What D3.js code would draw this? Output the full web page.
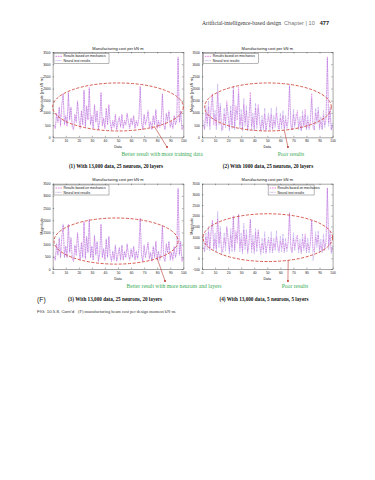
<!DOCTYPE html>
<html>
<head>
<meta charset="utf-8">
<script src="https://cdn.jsdelivr.net/npm/d3@7"></script>
<style>
  body { margin: 0; background: #fff; }
  svg { display: block; }
</style>
</head>
<body>
<div id="chart"></div>
<script>
// ── data ───────────────────────────────────────────────────────────
const mechanics = [
  500, 350, 1000, 600, 1250, 450, 1350, 1800, 500, 900,
  450, 1850, 700, 1250, 400, 300, 950, 600, 1500, 800,
  350, 1100, 500, 1950, 400, 1300, 700, 2050, 500, 900,
  350, 1350, 600, 1100, 300, 650, 1850, 450, 800, 350,
  1200, 500, 1350, 600, 300, 700, 400, 950, 300, 600,
  850, 400, 950, 350, 700, 500, 1000, 600, 350, 800,
  500, 900, 350, 700, 450, 800, 2100, 600, 300, 950,
  500, 750, 1100, 400, 650, 300, 900, 500, 1150, 350,
  700, 400, 600, 1800, 500, 300, 1000, 700, 1100, 400,
  650, 350, 900, 500, 700, 3300, 600, 1100, 300, 450
]
const neural1 = [
  450, 400, 950, 650, 1200, 500, 1300, 1750, 550, 850,
  500, 1800, 750, 1200, 450, 350, 900, 650, 1450, 750,
  400, 1050, 550, 1900, 450, 1250, 750, 2000, 550, 850,
  400, 1300, 650, 1050, 350, 700, 1800, 500, 750, 400,
  1150, 550, 1300, 650, 350, 650, 450, 900, 350, 650,
  800, 450, 900, 400, 650, 550, 950, 650, 400, 750,
  550, 850, 400, 650, 500, 750, 2050, 650, 350, 900,
  550, 700, 1050, 450, 600, 350, 850, 550, 1100, 400,
  650, 450, 650, 1750, 550, 350, 950, 650, 1050, 450,
  600, 400, 850, 550, 650, 3250, 650, 1050, 350, 400
]
const neural2 = [
  700, 300, 1300, 450, 1500, 300, 1100, 1650, 700, 1100,
  300, 2200, 500, 1400, 250, 500, 1200, 400, 1350, 1000,
  250, 1300, 350, 2100, 300, 1100, 950, 1800, 350, 1150,
  250, 1600, 450, 1300, 250, 900, 1600, 300, 1000, 250,
  1400, 350, 1200, 850, 250, 900, 300, 1200, 250, 800,
  1000, 300, 1200, 300, 900, 400, 1250, 450, 300, 1000,
  350, 1100, 300, 900, 350, 650, 2150, 450, 300, 1150,
  400, 950, 900, 300, 850, 250, 1100, 400, 950, 300,
  900, 300, 800, 1600, 350, 300, 1200, 550, 1250, 300,
  850, 300, 1100, 400, 900, 3250, 450, 1250, 300, 600
]
const neural3 = [
  550, 400, 1050, 550, 1300, 500, 1300, 1850, 450, 950,
  500, 1800, 650, 1300, 450, 350, 1000, 550, 1450, 850,
  400, 1050, 450, 1900, 450, 1350, 650, 2000, 450, 950,
  400, 1400, 550, 1150, 350, 600, 1800, 500, 850, 400,
  1250, 450, 1300, 550, 350, 750, 350, 1000, 350, 550,
  900, 350, 1000, 400, 750, 450, 1050, 550, 400, 850,
  450, 950, 400, 750, 400, 850, 2050, 550, 350, 1000,
  450, 800, 1050, 450, 700, 350, 950, 450, 1100, 400,
  750, 350, 650, 1750, 450, 350, 1050, 650, 1150, 350,
  700, 400, 950, 450, 750, 3300, 550, 1150, 350, 500
]
const neural4 = [
  900, 300, 1200, 400, 1500, 350, 1250, 1700, 400, 1200,
  300, 2200, 500, 1500, 200, 450, 1200, 350, 1450, 1000,
  200, 1400, 300, 2000, 300, 1150, 900, 2050, 300, 1200,
  200, 1650, 400, 1350, 200, 850, 1800, 250, 1100, 200,
  1400, 300, 1250, 800, 150, 950, 250, 1250, 200, 750,
  1000, 250, 1250, 250, 950, 350, 1300, 400, 250, 1050,
  300, 1150, 250, 950, 300, 700, 2150, 400, 250, 1200,
  350, 1000, 950, 250, 900, 200, 1150, 350, 1000, 250,
  950, 250, 850, 1750, -100, 250, 1250, 500, 1300, 250,
  900, 250, 1150, 350, 950, 3300, 400, 1300, 200, 600
]
const seriesNames = ['Results based on mechanics', 'Neural test results']
const xTicks = [0, 10, 20, 30, 40, 50, 60, 70, 80, 90, 100]
const yTicksA = [0, 500, 1000, 1500, 2000, 2500, 3000, 3500]
const yTicksB = [-500, 0, 500, 1000, 1500, 2000, 2500, 3000, 3500]
const captions = [
  '(1) With 13,000 data, 25 neurons, 20 layers',
  '(2) With 1000 data, 25 neurons, 20 layers',
  '(3) With 13,000 data, 25 neurons, 20 layers',
  '(4) With 13,000 data, 5 neurons, 5 layers'
]
// ellipse (cx, cy, rx, ry) and arrow (from x, to x, to y) in data units
const ellipses = [[50, 1245, 50, 985], [50.5, 1245, 48.5, 985], [48.5, 1146, 47.5, 946], [50.4, 970, 49.6, 1120]]
const arrows = [[78, 87.5, -400], [63, 65.8, -400], [80, 86, -490], [66, 65.8, -1060]]

const idx = d3.range(1, 101)

const W = 375, H = 480
const PW = 130.6, PH = 85.3
const SANS = 'Liberation Sans, Arial, sans-serif'
const SERIF = 'Liberation Serif, Times New Roman, serif'
const C_MECH = '#d24ad6', C_NEUR = '#8a63d8', C_ELL = '#d2473c', C_GREEN = '#3aab55'

const panels = [
  { left: 52.7, top: 52, neural: neural1, yTicks: yTicksA, ylab: 'Magnitude (per kN·m)', legend: 'left' },
  { left: 202, top: 52, neural: neural2, yTicks: yTicksA, ylab: 'Magnitude (per kN·m)', legend: 'left' },
  { left: 52.7, top: 183.7, neural: neural3, yTicks: yTicksA, ylab: 'Magnitude', legend: 'left' },
  { left: 202, top: 183.7, neural: neural4, yTicks: yTicksB, ylab: 'Magnitude', legend: 'right' }
]

const svg = d3.select('#chart').append('svg').attr('width', W).attr('height', H)
svg.append('rect').attr('width', W).attr('height', H).attr('fill', '#fff')

// ── page header ───────────────────────────────────────────────────
const hdr = svg.append('text').attr('x', 202).attr('y', 25).style('font-size', '5.6px')
hdr.append('tspan').style('font-family', SERIF).attr('fill', '#333').text('Artificial-intelligence-based design')
hdr.append('tspan').attr('dx', 3).style('font-family', SANS).attr('fill', '#777').text('Chapter | 10')
hdr.append('tspan').attr('dx', 5).style('font-family', SANS).style('font-weight', 'bold').attr('fill', '#222').text('477')

panels.forEach((p, k) => {
  const x = d3.scaleLinear().domain([0, 100]).range([0, PW])
  const y = d3.scaleLinear().domain(d3.extent(p.yTicks)).range([PH, 0])
  const g = svg.append('g').attr('transform', `translate(${p.left},${p.top})`)

  // title
  g.append('text').attr('x', PW / 2).attr('y', -2.5).attr('text-anchor', 'middle')
    .style('font-family', SANS).style('font-size', '4px').attr('fill', '#111')
    .text('Manufacturing cost per kN·m')

  // lines
  const line = d3.line().x((d, i) => x(idx[i])).y(d => y(d))
  g.append('path').datum(mechanics).attr('d', line)
    .attr('fill', 'none').attr('stroke', C_MECH).attr('stroke-width', 0.45).attr('stroke-dasharray', '1.6 0.8')
  g.append('path').datum(p.neural).attr('d', line)
    .attr('fill', 'none').attr('stroke', C_NEUR).attr('stroke-width', 0.4).attr('stroke-dasharray', '0.8 0.5')

  // axes (matlab box, inward ticks)
  const styleAxis = sel => {
    sel.selectAll('path').attr('stroke', '#222').attr('stroke-width', 0.4)
    sel.selectAll('line').attr('stroke', '#222').attr('stroke-width', 0.35)
    sel.selectAll('text').style('font-family', SANS).style('font-size', '3.3px').attr('fill', '#222')
  }
  g.append('g').attr('transform', `translate(0,${PH})`)
    .call(d3.axisBottom(x).tickValues(xTicks).tickSize(-1.5).tickSizeOuter(0).tickPadding(2.2).tickFormat(d3.format('d'))).call(styleAxis)
  g.append('g')
    .call(d3.axisTop(x).tickValues(xTicks).tickSize(-1.5).tickSizeOuter(0).tickFormat('')).call(styleAxis)
  g.append('g')
    .call(d3.axisLeft(y).tickValues(p.yTicks).tickSize(-1.5).tickSizeOuter(0).tickPadding(2.2).tickFormat(d3.format('d'))).call(styleAxis)
  g.append('g').attr('transform', `translate(${PW},0)`)
    .call(d3.axisRight(y).tickValues(p.yTicks).tickSize(-1.5).tickSizeOuter(0).tickFormat('')).call(styleAxis)

  // axis labels
  g.append('text').attr('x', PW / 2).attr('y', PH + 11).attr('text-anchor', 'middle')
    .style('font-family', SANS).style('font-size', '3.6px').attr('fill', '#111').text('Data')
  g.append('text').attr('transform', `translate(-9.5,${PH / 2}) rotate(-90)`).attr('text-anchor', 'middle')
    .style('font-family', SANS).style('font-size', '3.6px').attr('fill', '#111').text(p.ylab)

  // legend
  const lw = p.legend === 'left' ? 55 : 46, lh = 10
  const lx = p.legend === 'left' ? 1.3 : PW - lw - 18.5
  const lg = g.append('g').attr('transform', `translate(${lx},1.3)`)
  lg.append('rect').attr('width', lw).attr('height', lh)
    .attr('fill', '#fff').attr('stroke', '#333').attr('stroke-width', 0.35)
  seriesNames.forEach((name, j) => {
    const yy = 3 + j * 4.3
    lg.append('line').attr('x1', 1.5).attr('x2', 8).attr('y1', yy).attr('y2', yy)
      .attr('stroke', j === 0 ? C_MECH : C_NEUR).attr('stroke-width', j === 0 ? 0.7 : 0.5)
      .attr('stroke-dasharray', j === 0 ? '1.6 0.8' : '0.8 0.5')
    lg.append('text').attr('x', 9.5).attr('y', yy + 1.2)
      .style('font-family', SANS).style('font-size', '3.3px').attr('fill', '#111').text(name)
  })

  // red ellipse + arrow
  const [ecx, ecy, erx, ery] = ellipses[k]
  g.append('ellipse').attr('cx', x(ecx)).attr('cy', y(ecy))
    .attr('rx', x(erx) - x(0)).attr('ry', y(0) - y(ery))
    .attr('fill', 'none').attr('stroke', C_ELL).attr('stroke-width', 0.9).attr('stroke-dasharray', '3 1.6')
  const [ax0, ax1, ay1] = arrows[k]
  const t = Math.acos(Math.max(-1, Math.min(1, (ax0 - ecx) / erx)))
  const ay0 = ecy - ery * Math.sin(t)
  g.append('line').attr('x1', x(ax0)).attr('y1', y(ay0)).attr('x2', x(ax1)).attr('y2', y(ay1))
    .attr('stroke', '#b83a30').attr('stroke-width', 0.6)
  g.append('circle').attr('cx', x(ax1)).attr('cy', y(ay1)).attr('r', 1)
    .attr('fill', '#b83a30')
})

// ── annotations and captions ───────────────────────────────────────
const note = (txt, cx, yy) => svg.append('text').attr('x', cx).attr('y', yy).attr('text-anchor', 'middle')
  .style('font-family', SERIF).style('font-size', '5.6px').attr('fill', C_GREEN).text(txt)
note('Better result with more training data', 162, 156)
note('Poor results', 291, 156)
note('Better result with more neurons and layers', 174, 288)
note('Poor results', 295, 288)

const cap = (txt, cx, yy) => svg.append('text').attr('x', cx).attr('y', yy).attr('text-anchor', 'middle')
  .style('font-family', SERIF).style('font-size', '5.2px').style('font-weight', 'bold').attr('fill', '#111').text(txt)
cap(captions[0], 116, 168)
cap(captions[1], 268, 168)
cap(captions[2], 115, 301)
cap(captions[3], 264, 301)

svg.append('text').attr('x', 37).attr('y', 301.5)
  .style('font-family', SANS).style('font-size', '6.8px').attr('fill', '#222').text('(F)')
const fig = svg.append('text').attr('x', 37).attr('y', 313).style('font-size', '4.4px').attr('fill', '#333')
fig.append('tspan').style('font-family', SANS).text('FIG. 10.5.8, Cont\u2019d')
fig.append('tspan').attr('dx', 4).style('font-family', SERIF).text('(F) manufacturing beam cost per design moment kN·m.')
</script>
</body>
</html>
